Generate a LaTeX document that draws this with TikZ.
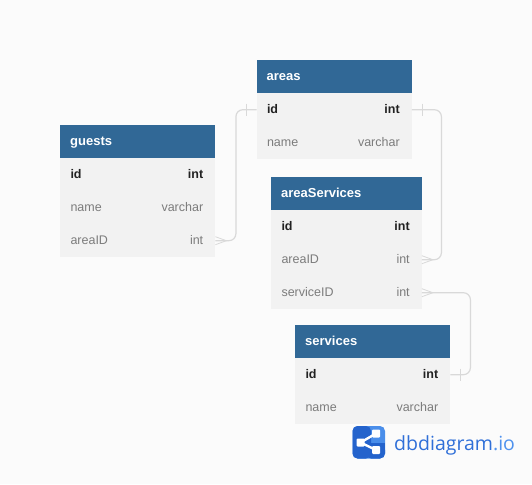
\documentclass[tikz,border=0pt]{standalone}
\usepackage{fontspec}
\setmainfont{Liberation Sans}
\newfontfamily\logofont{Open Sans}
\definecolor{pagebg}{HTML}{FBFBFB}
\definecolor{rowbg}{HTML}{F2F2F2}
\definecolor{headbg}{HTML}{316896}
\definecolor{fieldgray}{HTML}{7C7C7C}
\definecolor{idblack}{HTML}{222222}
\definecolor{relgray}{HTML}{D9D9D9}
\definecolor{logoA}{HTML}{4A8EEA}
\definecolor{logoB}{HTML}{2463CC}
\definecolor{logoT}{HTML}{2F6FD8}
\definecolor{logoU}{HTML}{4F92EE}
\tikzset{
  x=1pt,y=-1pt,
  header/.style={fill=headbg,anchor=north west,inner sep=0pt,minimum height=33pt},
  rowcell/.style={fill=rowbg,anchor=north west,inner sep=0pt,minimum height=33pt},
  cellbase/.style={inner sep=0pt,text height=9.5pt,text depth=3pt,yshift=-0.5pt},
  title/.style={cellbase,anchor=west,text=white,font=\fontsize{13}{15}\selectfont\bfseries},
  fieldl/.style={cellbase,anchor=west,text=fieldgray,font=\fontsize{12.5}{15}\selectfont},
  fieldr/.style={cellbase,anchor=east,text=fieldgray,font=\fontsize{12.5}{15}\selectfont},
  keyl/.style={cellbase,anchor=west,text=idblack,font=\fontsize{12.5}{15}\selectfont\bfseries},
  keyr/.style={cellbase,anchor=east,text=idblack,font=\fontsize{12.5}{15}\selectfont\bfseries},
  rel/.style={draw=relgray,line width=1.2pt,rounded corners=7pt},
  relmark/.style={draw=relgray,line width=0.8pt},
}
% #1 table, #2 x, #3 y, #4 width, #5 title
\newcommand\tablehead[5]{%
  \node[header,minimum width=#4pt] (#1) at (#2,#3) {};
  \node[title] (#1-title) at ([xshift=10pt]#1.west) {#5};
}
% #1 node name, #2 x, #3 y, #4 width, #5 name, #6 type, #7 left style, #8 right style
\newcommand\tablerow[8]{%
  \node[rowcell,minimum width=#4pt] (#1) at (#2,#3) {};
  \node[#7] (#1-n) at ([xshift=10.3pt]#1.west) {#5};
  \node[#8] (#1-t) at ([xshift=-12pt]#1.east) {#6};
}
\newcommand\crowfoot[2]{% at anchor #1, direction #2 (+1 right)
  \draw[relmark] ([yshift=4pt]#1) -- ([xshift=#2*11pt]#1) -- ([yshift=-4pt]#1);
}
\newcommand\tickbar[2]{% at anchor #1, offset #2
  \draw[relmark] ([xshift=#2,yshift=6pt]#1) -- ([xshift=#2,yshift=-6pt]#1);
}
\begin{document}
\begin{tikzpicture}
\useasboundingbox (0,0) rectangle (532,484);
\fill[pagebg] (0,0) rectangle (532,484);

\tablehead{guests}{60}{125}{155}{guests}
\tablerow{guests-id}{60}{158}{155}{id}{int}{keyl}{keyr}
\tablerow{guests-name}{60}{191}{155}{name}{varchar}{fieldl}{fieldr}
\tablerow{guests-areaID}{60}{224}{155}{areaID}{int}{fieldl}{fieldr}

\tablehead{areas}{256.5}{60}{155}{areas}
\tablerow{areas-id}{256.5}{93}{155}{id}{int}{keyl}{keyr}
\tablerow{areas-name}{256.5}{126}{155}{name}{varchar}{fieldl}{fieldr}

\tablehead{areaServices}{271}{177}{150.5}{areaServices}
\tablerow{as-id}{271}{210}{150.5}{id}{int}{keyl}{keyr}
\tablerow{as-areaID}{271}{243}{150.5}{areaID}{int}{fieldl}{fieldr}
\tablerow{as-serviceID}{271}{276}{150.5}{serviceID}{int}{fieldl}{fieldr}

\tablehead{services}{295}{325}{155}{services}
\tablerow{services-id}{295}{358}{155}{id}{int}{keyl}{keyr}
\tablerow{services-name}{295}{391}{155}{name}{varchar}{fieldl}{fieldr}

\draw[rel] (guests-areaID.east) -- ++(20.5,0) |- (areas-id.west);
\draw[rel] (areas-id.east) -- ++(29.5,0) |- (as-areaID.east);
\draw[rel] (as-serviceID.east) -- ++(48.5,0) |- (services-id.east);

\crowfoot{guests-areaID.east}{1}
\crowfoot{as-areaID.east}{1}
\crowfoot{as-serviceID.east}{1}
\tickbar{areas-id.west}{-10pt}
\tickbar{areas-id.east}{10pt}
\tickbar{services-id.east}{9.5pt}

% logo
\fill[logoA,rounded corners=5pt] (352.5,426) rectangle (385,458.5);
\fill[logoB,rounded corners=5pt] (352.5,426) rectangle (371,458.5);
\fill[logoB] (366,442.5) rectangle (385,452);
\fill[logoB,rounded corners=5pt] (366,445) rectangle (385,458.5);
\coordinate (logoL) at (360.5,442.5);
\coordinate (logoR1) at (376,433.5);
\coordinate (logoR2) at (376,450);
\draw[white,line width=2.4pt] (logoR1) -- (logoL) -- (logoR2);
\fill[white,rounded corners=1pt] (356.5,438.5) rectangle (364.5,446.5);
\fill[white,rounded corners=1pt] (372,429.5) rectangle (380,437.5);
\fill[white,rounded corners=1pt] (372,446) rectangle (380,454);
\node[anchor=base west,inner sep=0pt,font=\logofont\fontsize{19.5}{24}\selectfont] (logotext) at (394,450) {\textcolor{logoT}{dbdiagram}\textcolor{logoU}{.io}};
\end{tikzpicture}
\end{document}
